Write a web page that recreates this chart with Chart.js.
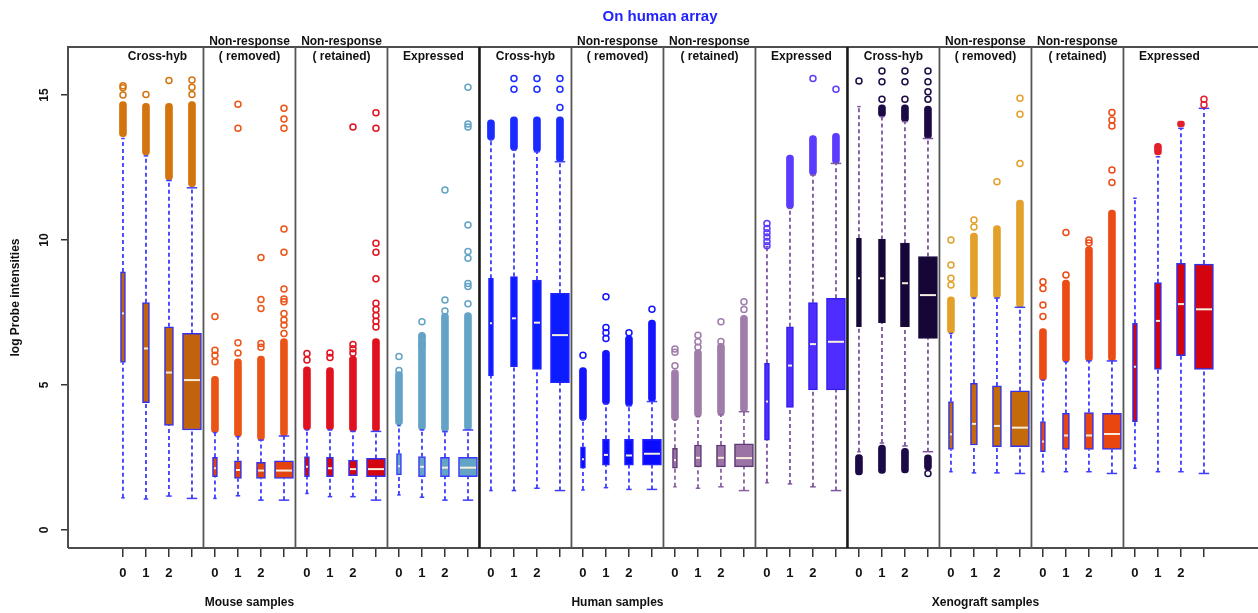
<!DOCTYPE html>
<html>
<head>
<meta charset="utf-8">
<title>On human array</title>
<script src="https://cdn.jsdelivr.net/npm/chart.js"></script>
<style>
    html, body { margin: 0; padding: 0; background: #fff; }
    #chart { display: block; }
</style>
</head>
<body>
<canvas id="chart" width="1258" height="613"></canvas>
<script>
// labels
const sampleTicks = ['0', '1', '2', ''];
const panelNames = ['Cross-hyb', 'Non-response\n( removed)', 'Non-response\n( retained)', 'Expressed'];
const speciesNames = ['Mouse samples', 'Human samples', 'Xenograft samples'];
const yTicks = [0, 5, 10, 15];

// box stats for 48 boxes: 3 species x 4 panels x 4 samples
const whiskerLow = [
    1.11, 1.07, 1.17, 1.09,   1.09, 1.18, 1.03, 1.03,   1.26, 1.15, 1.15, 1.03,   1.21, 1.13, 1.03, 1.03,
    1.36, 1.36, 1.44, 1.36,   1.38, 1.46, 1.40, 1.40,   1.49, 1.44, 1.49, 1.36,   1.63, 1.59, 1.49, 1.36,
    2.70, 3.00, 2.90, 2.70,   2.01, 1.97, 1.97, 1.95,   2.01, 2.01, 2.01, 1.95,   2.13, 2.01, 2.01, 1.95
];
const q1 = [
    5.78, 4.39, 3.61, 3.45,   1.84, 1.78, 1.78, 1.78,   1.84, 1.84, 1.87, 1.84,   1.90, 1.84, 1.84, 1.84,
    5.31, 5.63, 5.54, 5.08,   2.13, 2.24, 2.24, 2.24,   2.13, 2.18, 2.18, 2.18,   3.10, 4.23, 4.83, 4.83,
    7.01, 7.15, 7.01, 6.61,   2.78, 2.93, 2.87, 2.87,   2.70, 2.78, 2.78, 2.78,   3.74, 5.54, 6.01, 5.54
];
const median = [
    7.47, 6.26, 5.43, 5.17,   2.13, 2.07, 2.05, 2.05,   2.18, 2.13, 2.10, 2.10,   2.20, 2.18, 2.15, 2.15,
    7.13, 7.30, 7.15, 6.72,   2.44, 2.59, 2.57, 2.63,   2.41, 2.49, 2.49, 2.48,   4.43, 5.67, 6.41, 6.49,
    8.68, 8.68, 8.51, 8.10,   3.30, 3.66, 3.59, 3.53,   3.05, 3.26, 3.26, 3.31,   5.63, 7.21, 7.79, 7.61
];
const q3 = [
    8.90, 7.84, 7.01, 6.78,   2.51, 2.39, 2.33, 2.39,   2.53, 2.51, 2.41, 2.47,   2.64, 2.53, 2.51, 2.51,
    8.68, 8.74, 8.62, 8.16,   2.87, 3.13, 3.13, 3.13,   2.82, 2.93, 2.93, 2.97,   5.75, 7.01, 7.84, 7.99,
    10.06, 10.02, 9.89, 9.43, 4.43, 5.06, 4.97, 4.80,   3.74, 4.02, 4.05, 4.02,   7.13, 8.53, 9.20, 9.17
];
const whiskerHigh = [
    13.50, 12.90, 12.05, 11.80, 3.36, 3.22, 3.10, 3.24, 3.45, 3.45, 3.40, 3.40, 3.60, 3.45, 3.39, 3.45,
    13.45, 13.10, 13.04, 12.70, 3.79, 4.34, 4.28, 4.43, 3.79, 3.91, 3.97, 4.08, 9.77, 11.09, 12.24, 12.64,
    14.60, 14.25, 14.08, 13.50, 6.78, 8.00, 8.00, 7.68, 5.17, 5.80, 5.83, 5.83, 11.44, 12.87, 13.85, 14.54
];

// dense runs of outliers above the whisker (drawn as solid columns)
const denseLow = [
    13.56, 12.93, 12.07, 11.84, 3.36, 3.22, 3.10, 3.24, 3.45, 3.45, 3.40, 3.40, 3.62, 3.45, 3.39, 3.45,
    13.45, 13.10, 13.04, 12.70, 3.79, 4.34, 4.28, 4.43, 3.79, 3.91, 3.97, 4.08, null, 11.09, 12.24, 12.64,
    null, 14.25, 14.08, 13.50, 6.78, 8.00, 8.00, 7.68, 5.17, 5.80, 5.83, 5.83, null, 12.93, 13.90, null
];
const denseHigh = [
    14.77, 14.71, 14.71, 14.77, 5.30, 5.90, 6.00, 6.60, 5.63, 5.60, 6.00, 6.60, 5.46, 6.78, 7.47, 7.50,
    14.14, 14.25, 14.25, 14.25, 5.60, 6.20, 6.70, 7.24, 5.52, 6.21, 6.44, 7.40, null, 12.93, 13.60, 13.68,
    null, 14.66, 14.66, 14.62, 8.04, 10.24, 10.50, 11.38, 6.95, 8.62, 9.77, 11.03, null, 13.33, 14.10, null
];
// xenograft cross-hyb also has a dense run below the whisker (boxes 32..35)
const xenoLowBand = [[1.90, 2.60], [1.95, 2.93], [1.97, 2.82], [2.07, 2.59]];

// single outlier circles
const outliers = [
    [15.0, 15.25, 15.32], [15.02], [15.5], [15.02, 15.27, 15.52],
    [5.8, 6.03, 6.2, 7.36], [6.1, 6.46, 13.85, 14.68], [6.3, 6.43, 7.64, 7.95, 9.4],
    [6.78, 7.07, 7.24, 7.47, 7.87, 7.97, 8.31, 9.58, 10.38, 13.85, 14.17, 14.54],
    [5.86, 6.09], [5.95, 6.1], [6.1, 6.25, 6.4, 13.9], [7.0, 7.2, 7.4, 7.6, 7.82, 8.66, 9.58, 9.89, 13.85, 14.39],
    [5.5, 5.98], [6.39, 6.7, 7.18], [7.55, 7.93, 11.72], [7.8, 8.4, 8.5, 9.37, 9.6, 10.52, 13.9, 14.0, 15.27],
    [], [15.2, 15.57], [15.2, 15.57], [14.57, 15.2, 15.57],
    [6.03], [6.6, 6.8, 6.98, 8.04], [6.8], [7.61],
    [5.66, 6.13, 6.24], [6.3, 6.49, 6.72], [6.5, 7.18], [7.6, 7.87],
    [9.8, 9.95, 10.1, 10.25, 10.4, 10.57], [], [15.57], [15.2],
    [15.48], [14.85, 15.46, 15.83], [14.85, 15.46, 15.83], [1.95, 14.85, 15.11, 15.46, 15.83],
    [8.45, 8.68, 9.14, 10.0], [10.45, 10.69], [12.01], [12.64, 14.34, 14.89],
    [7.36, 7.76, 8.33, 8.56], [8.79, 10.26], [9.9, 10.0], [11.98, 12.41, 13.93, 14.14, 14.4],
    [], [], [], [14.66, 14.85]
];

// colours per panel (12 panels)
const boxFill = ['#c1620c', '#e2430f', '#d3040f', '#63a3c5', '#0b1cff', '#0b0cff', '#9b73a5', '#4f2cff', '#160638', '#c36b0a', '#e9460f', '#d3040f'];
const outlierCol = ['#d3740f', '#eb5416', '#e0121f', '#63a3c5', '#1a2cff', '#1414ff', '#a07cab', '#5a3cff', '#1c0a46', '#e3a12c', '#eb4c15', '#e2202c'];
const boxBorder = ['#3232ee', '#3232ee', '#3232ee', '#3a3aff', '#2222ff', '#2222ff', '#5e3978', '#3320ee', '#1a0a40', '#3232ee', '#3232ee', '#3232ee'];
const whiskerCol = ['#3d3dff', '#3d3dff', '#3d3dff', '#3d3dff', '#3d3dff', '#3d3dff', '#8b62a0', '#7d55a0', '#7d55a0', '#3d3dff', '#3d3dff', '#3d3dff'];
const boxWidth = [5, 7, 9, 19];   // px, by sample position in a panel

const panelOf = i => Math.floor(i / 4);

Chart.defaults.font.family = '"Liberation Sans", Arial, sans-serif';

// boxes: one dataset per sample position so each gets its own width
const boxSets = [0, 1, 2, 3].map(p => ({
    type: 'bar',
    order: 4,
    data: q1.map((v, i) => ({ x: i, y: [v, q3[i]] })).filter(d => d.x % 4 === p),
    backgroundColor: boxFill,
    borderColor: boxBorder,
    borderWidth: 1.5,
    borderSkipped: false,
    barThickness: boxWidth[p],
    grouped: false
}));

// whiskers as broken dashed line
const whiskerPts = [];
median.forEach((m, i) => {
    whiskerPts.push({ x: i, y: whiskerLow[i] }, { x: i, y: q1[i] }, { x: i, y: null });
    whiskerPts.push({ x: i, y: q3[i] }, { x: i, y: whiskerHigh[i] }, { x: i, y: null });
});

const capPts = [], capColors = [], capRadius = [];
median.forEach((m, i) => {
    [whiskerLow[i], whiskerHigh[i]].forEach(v => {
        capPts.push({ x: i, y: v });
        capColors.push(whiskerCol[panelOf(i)]);
        capRadius.push(boxWidth[i % 4] / 4 + 0.5);
    });
});

const densePts = [], denseColors = [];
denseLow.forEach((lo, i) => {
    if (lo === null) return;
    densePts.push({ x: i, y: [lo, denseHigh[i]] });
    denseColors.push(outlierCol[panelOf(i)]);
});
xenoLowBand.forEach((b, k) => {
    densePts.push({ x: 32 + k, y: b });
    denseColors.push(outlierCol[8]);
});

const outPts = [], outColors = [];
outliers.forEach((list, i) => {
    list.forEach(v => {
        outPts.push({ x: i, y: v });
        outColors.push(outlierCol[panelOf(i)]);
    });
});

const datasets = [
    {
        type: 'line',
        order: 6,
        data: whiskerPts,
        spanGaps: false,
        pointRadius: 0,
        borderWidth: 1.8,
        borderDash: [4, 3],
        borderColor: '#3d3dff',
        segment: { borderColor: c => whiskerCol[panelOf(c.p0.parsed.x)] }
    },
    {
        type: 'bar',
        order: 5,
        data: densePts,
        backgroundColor: denseColors,
        borderWidth: 0,
        borderRadius: 3.5,
        borderSkipped: false,
        barThickness: 7,
        grouped: false
    },
    ...boxSets,
    {
        type: 'scatter',
        order: 3,
        data: median.map((m, i) => ({ x: i, y: m })),
        pointStyle: 'line',
        pointRadius: median.map((m, i) => boxWidth[i % 4] / 2 - 1.5),
        borderColor: '#f8efdf',
        borderWidth: 2
    },
    {
        type: 'scatter',
        order: 2,
        data: capPts,
        pointStyle: 'line',
        pointRadius: capRadius,
        borderColor: capColors,
        borderWidth: 1.5
    },
    {
        type: 'scatter',
        order: 1,
        data: outPts,
        pointStyle: 'circle',
        pointRadius: 3,
        borderWidth: 1.5,
        backgroundColor: 'rgba(0,0,0,0)',
        borderColor: outColors
    }
];

function drawText(ctx, s, x, y, font, color, vertical) {
    ctx.save();
    ctx.translate(x, y);
    if (vertical) ctx.rotate(-Math.PI / 2);
    ctx.font = font;
    ctx.fillStyle = color;
    ctx.textAlign = 'center';
    ctx.textBaseline = 'middle';
    ctx.fillText(s, 0, 0);
    ctx.restore();
}

const framePlugin = {
    id: 'frame',
    afterDraw(chart) {
        const { ctx, chartArea: a, scales: { x, y } } = chart;
        ctx.save();
        ctx.strokeStyle = '#4d4d4d';
        ctx.lineWidth = 2;
        ctx.beginPath();
        ctx.moveTo(a.left, a.bottom);
        ctx.lineTo(a.left, a.top);
        ctx.lineTo(a.right, a.top);
        ctx.moveTo(a.left, a.bottom);
        ctx.lineTo(a.right, a.bottom);
        ctx.stroke();

        const nPanels = speciesNames.length * panelNames.length;
        for (let g = 1; g < nPanels; g++) {
            const px = x.getPixelForValue(g * 4 - 0.5);
            const major = g % 4 === 0;
            ctx.strokeStyle = major ? '#1a1a1a' : '#555';
            ctx.lineWidth = major ? 2.6 : 1.8;
            ctx.beginPath();
            ctx.moveTo(px, a.top);
            ctx.lineTo(px, a.bottom);
            ctx.stroke();
        }

        // panel titles
        for (let g = 0; g < nPanels; g++) {
            const cx = x.getPixelForValue(g * 4 + 1.5);
            const lines = panelNames[g % 4].split('\n');
            if (lines.length === 2) {
                drawText(ctx, lines[0], cx, a.top - 5, 'bold 12px "Liberation Sans", Arial', '#111');
                drawText(ctx, lines[1], cx, a.top + 10, 'bold 12px "Liberation Sans", Arial', '#111');
            } else {
                drawText(ctx, lines[0], cx, a.top + 10, 'bold 12px "Liberation Sans", Arial', '#111');
            }
        }

        // species labels under the axis
        speciesNames.forEach((s, k) => {
            drawText(ctx, s, x.getPixelForValue(k * 16 + 5.5), 603, 'bold 12px "Liberation Sans", Arial', '#111');
        });

        // y tick labels, parallel to axis
        y.ticks.forEach(t => {
            drawText(ctx, String(t.value), 45, y.getPixelForValue(t.value), 'bold 12px "Liberation Sans", Arial', '#111', true);
        });
        drawText(ctx, 'log Probe intensities', 16, (a.top + a.bottom) / 2, 'bold 12px "Liberation Sans", Arial', '#111', true);

        drawText(ctx, 'On human array', (a.left + a.right) / 2 - 3, 17, 'bold 15px "Liberation Sans", Arial', '#2222ff');
        ctx.restore();
    }
};

new Chart(document.getElementById('chart'), {
    type: 'bar',
    data: { datasets },
    options: {
        responsive: false,
        animation: false,
        layout: { autoPadding: false, padding: { top: 47, left: 0, right: 0, bottom: 0 } },
        plugins: {
            legend: { display: false },
            tooltip: { enabled: false },
            title: { display: false }
        },
        scales: {
            x: {
                type: 'linear',
                min: -2.39,
                max: 49.35,
                offset: false,
                grid: { display: true, offset: false, drawOnChartArea: false, tickLength: 9, color: '#333', lineWidth: 1.5 },
                border: { display: false },
                ticks: {
                    autoSkip: false,
                    maxRotation: 0,
                    padding: 9,
                    color: '#111',
                    font: { size: 13, weight: 'bold' },
                    callback: v => sampleTicks[Math.round(v) % 4]
                },
                afterBuildTicks: s => { s.ticks = median.map((m, i) => ({ value: i })); },
                afterFit: s => {
                    s.height = 65;
                    s.paddingLeft = 0;
                    s.paddingRight = 0;
                }
            },
            y: {
                min: -0.62,
                max: 16.655,
                grid: { display: true, drawOnChartArea: false, tickLength: 7, color: '#333', lineWidth: 1.5 },
                border: { display: false },
                ticks: { display: false },
                afterBuildTicks: s => { s.ticks = yTicks.map(v => ({ value: v })); },
                afterFit: s => {
                    s.width = 68;
                    s.paddingTop = 0;
                    s.paddingBottom = 0;
                }
            }
        }
    },
    plugins: [framePlugin]
});
</script>
</body>
</html>
